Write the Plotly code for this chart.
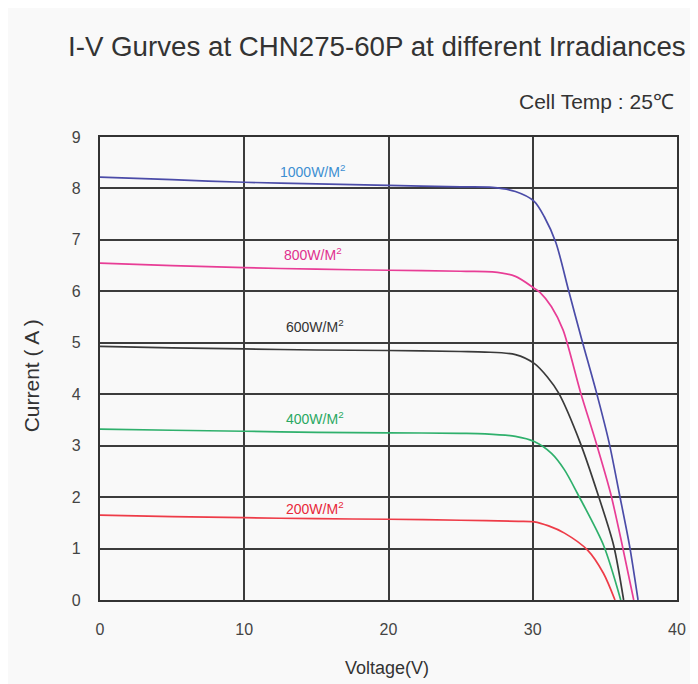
import plotly.graph_objects as go

# ---- data ----
v_1000 = [0, 5, 10, 15, 20, 25, 27.2, 28.8, 30.1, 30.8, 31.6, 32.5, 33.4, 34.4, 35.3, 36.0, 36.7, 37.3]
i_1000 = [8.22, 8.17, 8.12, 8.09, 8.06, 8.03, 8.02, 7.94, 7.75, 7.45, 6.95, 6.0, 5.06, 4.05, 3.05, 2.07, 1.07, 0.0]

v_800 = [0, 5, 10, 15, 20, 25, 27.2, 28.8, 30.1, 30.5, 31.3, 32.1, 33.3, 34.4, 35.4, 36.2, 37.0]
i_800 = [6.55, 6.5, 6.46, 6.43, 6.41, 6.39, 6.38, 6.29, 6.06, 5.98, 5.7, 5.25, 4.05, 3.05, 2.07, 1.07, 0.0]

v_600 = [0, 5, 10, 15, 20, 25, 26.7, 28.8, 30.1, 31.0, 31.8, 33.3, 34.5, 35.6, 36.3]
i_600 = [4.93, 4.9, 4.88, 4.86, 4.85, 4.83, 4.82, 4.77, 4.6, 4.34, 4.02, 3.05, 2.07, 1.07, 0.0]

v_400 = [0, 5, 10, 15, 20, 25, 26.7, 28.8, 30.1, 31.3, 32.2, 33.1, 34.9, 36.1]
i_400 = [3.32, 3.3, 3.28, 3.26, 3.25, 3.24, 3.23, 3.18, 3.08, 2.85, 2.53, 2.07, 1.07, 0.0]

v_200 = [0, 5, 10, 15, 20, 25, 29, 30.1, 31.1, 32.2, 33.8, 34.9, 35.7]
i_200 = [1.65, 1.62, 1.6, 1.58, 1.57, 1.55, 1.53, 1.52, 1.44, 1.3, 0.97, 0.52, 0.0]

series_names = ["1000W/M<sup>2</sup>", "800W/M<sup>2</sup>", "600W/M<sup>2</sup>",
                "400W/M<sup>2</sup>", "200W/M<sup>2</sup>"]
label_x = [14.7, 14.8, 14.9, 14.9, 14.9]
label_y = [8.33, 6.73, 5.33, 3.54, 1.79]

x_ticks = [0, 10, 20, 30, 40]
y_ticks = [0, 1, 2, 3, 4, 5, 6, 7, 8, 9]

line_colors = ["#4b4ca8", "#e83d96", "#3a3a3a", "#2fb06c", "#ee3c48"]
label_colors = ["#3d8fd2", "#e0308e", "#333333", "#2aa862", "#e8283a"]

title_text = "I-V Gurves at CHN275-60P at different Irradiances"
temp_text = "Cell Temp : 25℃"
x_title = "Voltage(V)"
y_title = "Current ( A )"

FONT = "Liberation Sans, Arial, sans-serif"

# page has an 8px body margin; figure is sized to fit the 698x684 window
OFF = 8
FW, FH = 698 - OFF, 684 - OFF
ML, MR, MT, MB = 100 - OFF, FW - (680 - OFF), 137 - OFF, FH - (600 - OFF)
PW, PH = FW - ML - MR, FH - MT - MB


def px(screen_x):
    return (screen_x - OFF - ML) / PW


def py(screen_y):
    return (FH - MB - (screen_y - OFF)) / PH


fig = go.Figure()
for vs, cs, col in zip([v_1000, v_800, v_600, v_400, v_200],
                       [i_1000, i_800, i_600, i_400, i_200], line_colors):
    fig.add_trace(go.Scatter(x=vs, y=cs, mode="lines",
                             line=dict(color=col, width=1.7, shape="spline", smoothing=0.8),
                             showlegend=False, hoverinfo="skip"))

for name, lx, ly, lc in zip(series_names, label_x, label_y, label_colors):
    fig.add_annotation(x=lx, y=ly, xref="x", yref="y", text=name, showarrow=False,
                       font=dict(family=FONT, size=14, color=lc))

fig.add_annotation(x=px(66), y=py(47), xref="paper", yref="paper", text=title_text,
                   showarrow=False, xanchor="left", yanchor="middle",
                   font=dict(family=FONT, size=27.7, color="#333333"))
fig.add_annotation(x=px(679), y=py(101), xref="paper", yref="paper", text=temp_text,
                   showarrow=False, xanchor="right", yanchor="middle",
                   font=dict(family=FONT, size=21, color="#333333"))
fig.add_annotation(x=px(388), y=py(668), xref="paper", yref="paper", text=x_title,
                   showarrow=False, xanchor="center", yanchor="middle",
                   font=dict(family=FONT, size=18, color="#333333"))
fig.add_annotation(x=px(31), y=py(376), xref="paper", yref="paper", text=y_title,
                   showarrow=False, xanchor="center", yanchor="middle", textangle=-90,
                   font=dict(family=FONT, size=21, color="#333333"))

fig.update_layout(
    width=FW, height=FH,
    margin=dict(l=ML, r=MR, t=MT, b=MB, pad=0),
    paper_bgcolor="#f9f9f9", plot_bgcolor="#f9f9f9",
    font=dict(family=FONT, size=14, color="#444444"),
)

fig.update_xaxes(range=[0, 40], tickvals=x_ticks, ticks="", showgrid=True,
                 gridcolor="#3c3c3c", gridwidth=1.8, zeroline=False,
                 showline=True, linecolor="#333333", linewidth=2.2, mirror=True,
                 ticklabelstandoff=14, tickfont=dict(family=FONT, size=16, color="#444444"))
fig.update_yaxes(range=[0, 9], tickvals=y_ticks, ticks="", showgrid=True,
                 gridcolor="#3c3c3c", gridwidth=1.8, zeroline=False,
                 showline=True, linecolor="#333333", linewidth=2.2, mirror=True,
                 ticklabelstandoff=14, tickfont=dict(family=FONT, size=16, color="#444444"))

fig.write_html("out.html")
